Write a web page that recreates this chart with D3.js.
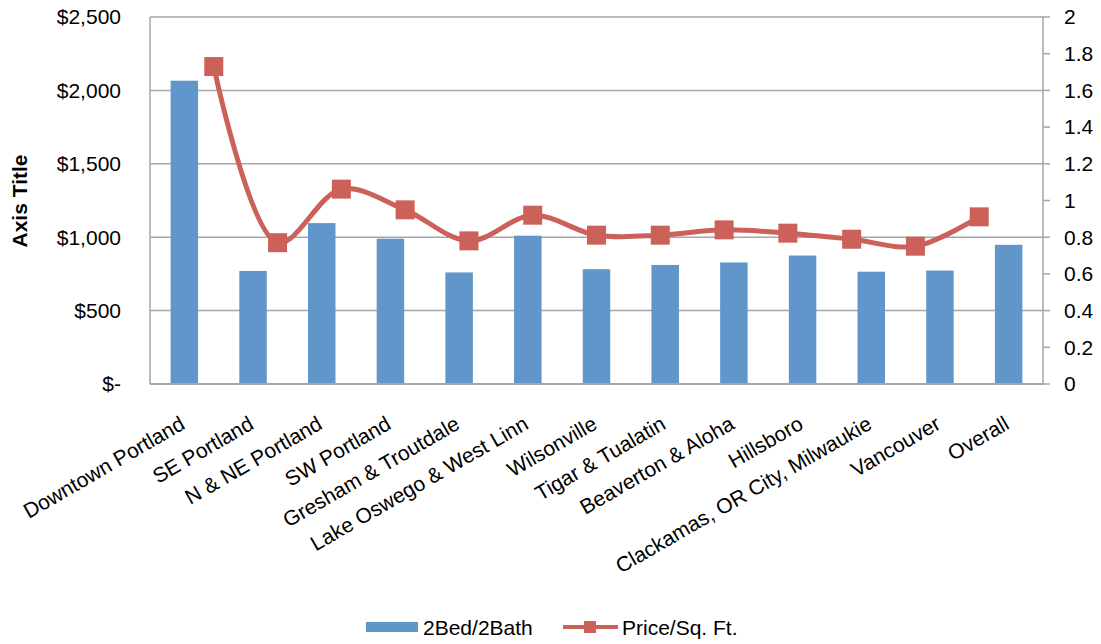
<!DOCTYPE html>
<html>
<head>
<meta charset="utf-8">
<script src="https://cdn.jsdelivr.net/npm/d3@7"></script>
<style>
  html, body { margin: 0; padding: 0; background: #fff; }
  svg { display: block; font-family: "Liberation Sans", Arial, sans-serif; }
</style>
</head>
<body>
<svg id="chart" width="1101" height="644"></svg>
<script>
const categories = ["Downtown Portland", "SE Portland", "N & NE Portland", "SW Portland",
  "Gresham & Troutdale", "Lake Oswego & West Linn", "Wilsonville", "Tigar & Tualatin",
  "Beaverton & Aloha", "Hillsboro", "Clackamas, OR City, Milwaukie", "Vancouver", "Overall"];
const rent2Bed = [2066, 770, 1096, 990, 760, 1010, 782, 811, 828, 875, 765, 773, 948];
const pricePerSqFt = [1.73, 0.77, 1.062, 0.949, 0.78, 0.92, 0.811, 0.811, 0.84, 0.822, 0.789, 0.751, 0.911];
const leftTicks = [0, 500, 1000, 1500, 2000, 2500];
const rightTicks = [0, 0.2, 0.4, 0.6, 0.8, 1, 1.2, 1.4, 1.6, 1.8, 2];
const seriesNames = ["2Bed/2Bath", "Price/Sq. Ft."];

const barColor = "#6096CA";
const lineColor = "#CC615A";
const gridColor = "#A6A6A6";
const fs = 21;

const svg = d3.select("#chart");
const x0 = 150, x1 = 1043, yTop = 17, yBot = 384;

const x = d3.scaleBand().domain(categories).range([x0, x1]).paddingInner(0.6).paddingOuter(0.3);
// line series sits on a secondary category axis
const xLine = d3.scaleLinear().domain([0, categories.length + 1]).range([x0, x1]);
const yL = d3.scaleLinear().domain([0, 2500]).range([yBot, yTop]);
const yR = d3.scaleLinear().domain([0, 2]).range([yBot, yTop]);

// gridlines
svg.append("g").selectAll("line").data(leftTicks).join("line")
  .attr("x1", x0).attr("x2", x1)
  .attr("y1", d => yL(d)).attr("y2", d => yL(d))
  .attr("stroke", gridColor).attr("stroke-width", 1.5);

// left axis labels
const fmt = d => d === 0 ? "$-" : "$" + d3.format(",")(d);
svg.append("g").selectAll("text").data(leftTicks).join("text")
  .attr("x", x0 - 29).attr("y", d => yL(d)).attr("dy", "0.35em")
  .attr("text-anchor", "end").attr("font-size", fs).attr("fill", "#000")
  .text(fmt);

// right axis ticks + labels
svg.append("g").selectAll("line").data(rightTicks).join("line")
  .attr("x1", x1).attr("x2", x1 + 7)
  .attr("y1", d => yR(d)).attr("y2", d => yR(d))
  .attr("stroke", gridColor).attr("stroke-width", 1.5);
svg.append("g").selectAll("text").data(rightTicks).join("text")
  .attr("x", x1 + 21).attr("y", d => yR(d)).attr("dy", "0.35em")
  .attr("text-anchor", "start").attr("font-size", fs).attr("fill", "#000")
  .text(d => d3.format("")(+d.toFixed(1)));

// bars
svg.append("g").selectAll("rect").data(categories).join("rect")
  .attr("x", d => x(d)).attr("width", x.bandwidth())
  .attr("y", (d, i) => yL(rent2Bed[i]))
  .attr("height", (d, i) => yBot - yL(rent2Bed[i]))
  .attr("fill", barColor);

// axis lines
svg.append("line").attr("x1", x0).attr("x2", x0).attr("y1", yTop).attr("y2", yBot)
  .attr("stroke", gridColor).attr("stroke-width", 1.5);
svg.append("line").attr("x1", x1).attr("x2", x1).attr("y1", yTop).attr("y2", yBot)
  .attr("stroke", gridColor).attr("stroke-width", 1.5);
svg.append("line").attr("x1", x0).attr("x2", x1).attr("y1", yBot).attr("y2", yBot)
  .attr("stroke", gridColor).attr("stroke-width", 2);

// line series
const line = d3.line()
  .x((d, i) => xLine(i + 1))
  .y(d => yR(d))
  .curve(d3.curveCatmullRom.alpha(0.5));
svg.append("path").datum(pricePerSqFt)
  .attr("d", line).attr("fill", "none")
  .attr("stroke", lineColor).attr("stroke-width", 5).attr("stroke-linejoin", "round");
const ms = 19;
svg.append("g").selectAll("rect").data(pricePerSqFt).join("rect")
  .attr("x", (d, i) => xLine(i + 1) - ms / 2)
  .attr("y", d => yR(d) - ms / 2)
  .attr("width", ms).attr("height", ms)
  .attr("fill", lineColor);

// category labels
svg.append("g").selectAll("text").data(categories).join("text")
  .attr("transform", d => `translate(${x(d) + x.bandwidth() / 2 + 2},${428}) rotate(-30)`)
  .attr("text-anchor", "end").attr("font-size", fs).attr("fill", "#000")
  .text(d => d);

// y axis title
svg.append("text")
  .attr("transform", "translate(27,201) rotate(-90)")
  .attr("text-anchor", "middle").attr("font-size", fs).attr("font-weight", "bold")
  .text("Axis Title");

// legend
const lg = svg.append("g");
lg.append("rect").attr("x", 366).attr("y", 622).attr("width", 52).attr("height", 10).attr("fill", barColor);
lg.append("text").attr("x", 423).attr("y", 635).attr("font-size", fs).text(seriesNames[0]);
lg.append("line").attr("x1", 563).attr("x2", 618).attr("y1", 627).attr("y2", 627)
  .attr("stroke", lineColor).attr("stroke-width", 4);
lg.append("rect").attr("x", 590 - 6).attr("y", 627 - 6).attr("width", 12).attr("height", 12).attr("fill", lineColor);
lg.append("text").attr("x", 622).attr("y", 635).attr("font-size", fs).text(seriesNames[1]);
</script>
</body>
</html>
